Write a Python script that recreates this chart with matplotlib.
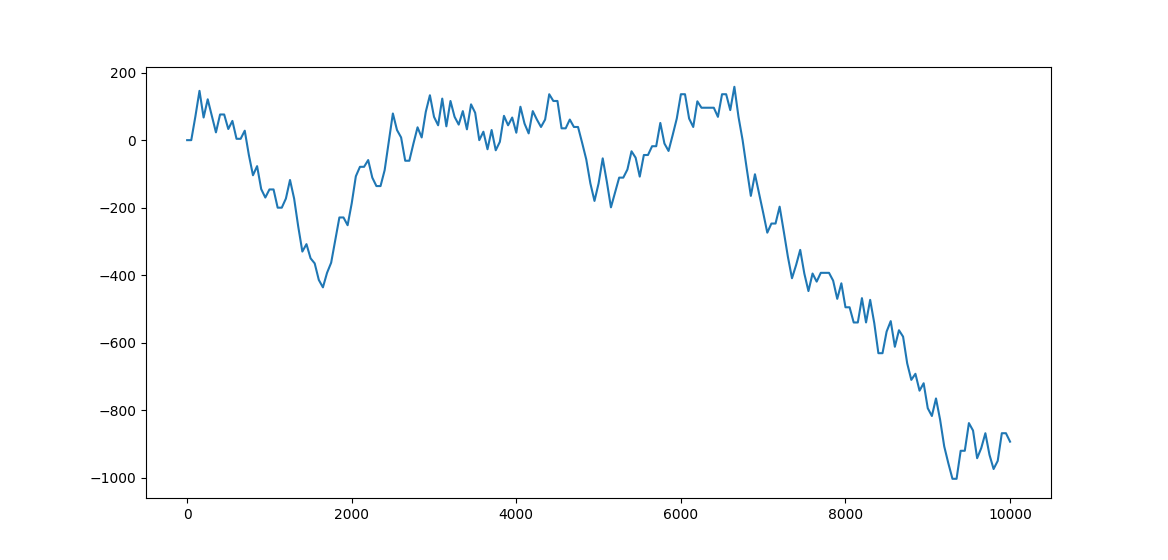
#!/usr/bin/env python3
"""
Plot a random walk trace sampled every 50 steps.
"""

import matplotlib
matplotlib.use('Agg')
import matplotlib.pyplot as plt
import numpy as np

# Sample spacing along the x axis
STEP = 50

# Walk position at every sample (x = 0, 50, ..., 10000)
walk_0 = [0, 0, 70, 146, 67, 121, 72, 23, 76, 76, 33, 57, 4, 4, 28, -44, -104, -77, -145, -170]
walk_1 = [-146, -146, -200, -200, -173, -118, -173, -256, -330, -308, -350, -365, -414, -436, -393, -363, -296, -229, -229, -252]
walk_2 = [-187, -107, -79, -79, -59, -111, -136, -136, -89, -5, 79, 30, 8, -61, -61, -10, 38, 8, 84, 133]
walk_3 = [69, 44, 123, 41, 116, 69, 46, 86, 32, 106, 81, 0, 25, -27, 30, -30, -5, 72, 44, 67]
walk_4 = [22, 99, 49, 20, 86, 61, 39, 61, 136, 116, 116, 35, 35, 61, 39, 39, -8, -57, -128, -180]
walk_5 = [-128, -54, -123, -199, -155, -111, -111, -87, -33, -52, -108, -44, -44, -18, -18, 51, -10, -32, 15, 64]
walk_6 = [136, 136, 64, 39, 115, 96, 96, 96, 96, 69, 136, 136, 89, 158, 69, 0, -84, -165, -101, -158]
walk_7 = [-215, -274, -247, -247, -197, -270, -345, -409, -370, -325, -395, -447, -395, -419, -393, -393, -393, -416, -470, -424]
walk_8 = [-495, -495, -540, -540, -468, -540, -473, -542, -631, -631, -567, -536, -612, -563, -582, -661, -710, -692, -742, -720]
walk_9 = [-794, -817, -765, -828, -907, -957, -1003, -1003, -920, -920, -838, -860, -942, -912, -868, -932, -974, -950, -868, -868]
walk_end = [-893]


def plot_walk(output_file='out.png'):
    """Draw the walk as a single line."""
    values = (walk_0 + walk_1 + walk_2 + walk_3 + walk_4 + walk_5
              + walk_6 + walk_7 + walk_8 + walk_9 + walk_end)
    steps = np.arange(len(values)) * STEP

    fig, ax = plt.subplots(figsize=(11.68, 5.6), dpi=100)
    ax.plot(steps, values)

    plt.savefig(output_file, dpi=100)
    plt.close()


if __name__ == "__main__":
    plot_walk()
